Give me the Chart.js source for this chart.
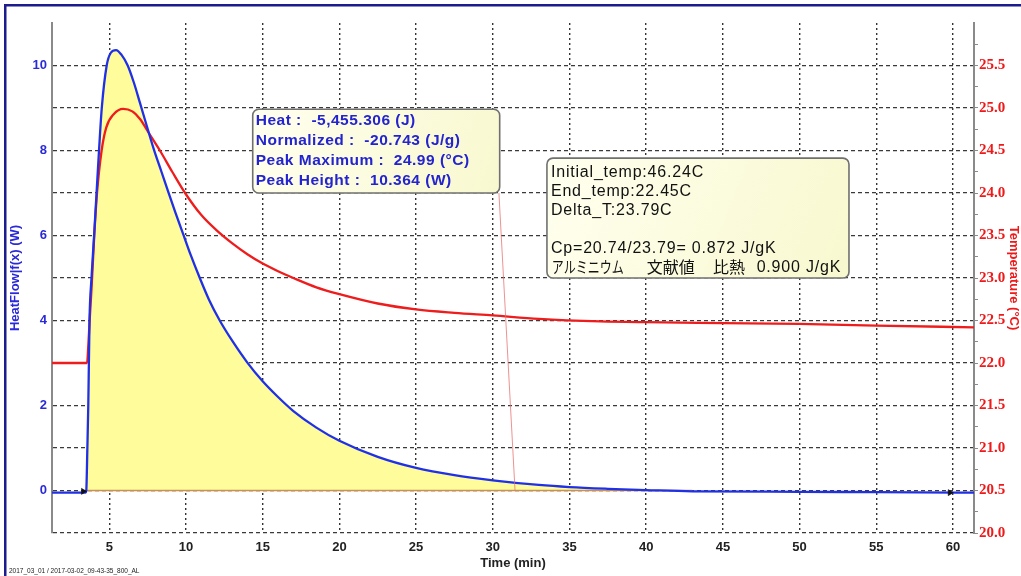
<!DOCTYPE html>
<html lang="ja">
<head>
<meta charset="UTF-8">
<title>HeatFlow / Temperature</title>
<script src="https://cdn.jsdelivr.net/npm/chart.js"></script>
<style>
  html, body { margin: 0; padding: 0; background: #fff; }
  #wrap { width: 1021px; height: 576px; }
</style>
</head>
<body>
<div id="wrap"><canvas id="dscChart" width="1021" height="576"></canvas></div>
<script>
// heat flow signal (W) against time (min)
const heatTime = [1.27, 2.5, 3.45, 3.5, 3.57, 3.63, 3.67, 3.71, 3.84, 4.01, 4.17, 4.33, 4.51, 4.83, 5.1, 5.44,
  5.8, 6.2, 6.6, 7.0, 7.45, 7.91, 8.4, 8.85, 9.3, 9.8, 10.3, 10.9, 11.5, 12.2, 13.0, 14.0, 15.0, 16.0, 17.0,
  18.5, 20.0, 22.5, 25.0, 27.5, 30.0, 33.0, 35.0, 37.5, 40.0, 43.0, 50.0, 55.0, 61.37];
const heatFlow = [-0.05, -0.05, -0.05, 0.0, 1.0, 2.0, 3.0, 4.0, 5.0, 6.0, 7.0, 8.0, 9.0, 10.0, 10.3, 10.364,
  10.25, 10.0, 9.6, 9.12, 8.57, 8.02, 7.5, 7.02, 6.55, 6.05, 5.55, 5.0, 4.49, 4.0, 3.53, 3.01, 2.57, 2.2,
  1.87, 1.48, 1.17, 0.79, 0.53, 0.36, 0.24, 0.13, 0.08, 0.04, 0.01, -0.02, -0.03, -0.04, -0.05];

// sample temperature (°C)
const tempTime = [1.27, 3.0, 3.55, 3.63, 3.72, 3.85, 4.02, 4.2, 4.5, 4.8, 5.3, 5.9, 6.5, 7.0, 7.6, 8.3, 9.1,
  9.94, 11.0, 12.0, 13.0, 14.0, 15.0, 16.0, 17.0, 18.5, 20.0, 22.5, 25.0, 27.5, 30.0, 33.0, 37.0, 40.0,
  45.0, 50.0, 55.0, 61.37];
const tempValue = [22.0, 22.0, 22.0, 22.2, 22.5, 22.9, 23.5, 24.0, 24.5, 24.77, 24.93, 24.99, 24.96, 24.87,
  24.7, 24.5, 24.25, 24.0, 23.74, 23.56, 23.41, 23.28, 23.17, 23.08, 23.0, 22.89, 22.81, 22.7, 22.63, 22.59,
  22.56, 22.52, 22.49, 22.48, 22.47, 22.46, 22.44, 22.42];

// integration window of the peak and its baseline
const peakStart = 3.5;
const peakFillEnd = 40.0;
const baselineEnd = 43.0;
const limitMarks = [{ x: 3.3, y: -0.02 }, { x: 59.8, y: -0.05 }];
const leader = [{ x: 30.4, y: 7.0 }, { x: 31.45, y: 0 }];

// axis ranges and tick labels
const timeRange = [1.265, 61.37];
const heatRange = [-1, 11];
const tempRange = [20, 26];
const timeTicks = [5, 10, 15, 20, 25, 30, 35, 40, 45, 50, 55, 60];
const heatTicks = [0, 2, 4, 6, 8, 10];
const tempTicks = [20.0, 20.5, 21.0, 21.5, 22.0, 22.5, 23.0, 23.5, 24.0, 24.5, 25.0, 25.5];

// result notes
const peakNote = {
  t0: 14.35, t1: 30.45, v0: 8.97, v1: 7.0,
  lines: ['Heat :  -5,455.306 (J)', 'Normalized :  -20.743 (J/g)',
          'Peak Maximum :  24.99 (°C)', 'Peak Height :  10.364 (W)']
};
const cpNote = {
  t0: 33.53, t1: 53.22, v0: 7.82, v1: 5.0,
  lines: ['Initial_temp:46.24C', 'End_temp:22.45C', 'Delta_T:23.79C', '', 'Cp=20.74/23.79= 0.872 J/gK'],
  jp: [['アルミニウム', 4.7, 72], ['文献値', 99.7, 0], ['比熱', 166, 0], ['0.900 J/gK', 209.7, 0]]
};
const footer = '2017_03_01 / 2017-03-02_09-43-35_800_AL';

const BLUE = '#2030e6';
const RED = '#ee1c1c';
const SANS = "'Liberation Sans', Arial, sans-serif";

const heatPts = heatTime.map((t, i) => ({ x: t, y: heatFlow[i] }));
const tempPts = tempTime.map((t, i) => ({ x: t, y: tempValue[i] }));
const fillPts = heatPts.filter(p => p.x >= peakStart && p.x <= peakFillEnd);

function roundRect(ctx, x, y, w, h, r) {
  ctx.beginPath();
  ctx.moveTo(x + r, y);
  ctx.arcTo(x + w, y, x + w, y + h, r);
  ctx.arcTo(x + w, y + h, x, y + h, r);
  ctx.arcTo(x, y + h, x, y, r);
  ctx.arcTo(x, y, x + w, y, r);
  ctx.closePath();
}

function noteBox(ctx, chart, note) {
  const sx = chart.scales.x, sy = chart.scales.y;
  const x1 = sx.getPixelForValue(note.t0), x2 = sx.getPixelForValue(note.t1);
  const y1 = sy.getPixelForValue(note.v0), y2 = sy.getPixelForValue(note.v1);
  const g = ctx.createLinearGradient(x1, y1, x2, y2);
  g.addColorStop(0, '#ffffef');
  g.addColorStop(1, '#f8f8cf');
  roundRect(ctx, x1, y1, x2 - x1, y2 - y1, 6);
  ctx.fillStyle = g;
  ctx.fill();
  ctx.lineWidth = 1.6;
  ctx.strokeStyle = '#707070';
  ctx.stroke();
  return { x: x1, y: y1 };
}

const decor = {
  id: 'decor',
  afterDatasetsDraw(chart) {
    const ctx = chart.ctx;
    ctx.save();
    ctx.textBaseline = 'middle';
    ctx.textAlign = 'left';

    let o = noteBox(ctx, chart, peakNote);
    ctx.fillStyle = '#2323d0';
    ctx.font = 'bold 15.5px ' + SANS;
    ctx.letterSpacing = '0.5px';
    peakNote.lines.forEach((s, i) => ctx.fillText(s, o.x + 3, o.y + 11 + i * 20.3));

    o = noteBox(ctx, chart, cpNote);
    ctx.fillStyle = '#111';
    ctx.font = '16px ' + SANS;
    ctx.letterSpacing = '0.8px';
    cpNote.lines.forEach((s, i) => ctx.fillText(s, o.x + 4, o.y + 14 + i * 19));
    const jy = o.y + 14 + 5 * 19;
    cpNote.jp.forEach(([s, dx, w]) => {
      if (/^[0-9]/.test(s)) {
        ctx.font = '16px ' + SANS;
        ctx.letterSpacing = '0.8px';
      } else {
        ctx.font = "16px 'Noto Sans CJK JP', sans-serif";
        ctx.letterSpacing = '0px';
      }
      if (w) ctx.fillText(s, o.x + dx, jy, w);
      else ctx.fillText(s, o.x + dx, jy);
    });
    ctx.restore();
  },
  afterDraw(chart) {
    const ctx = chart.ctx;
    ctx.save();
    // window frame
    ctx.fillStyle = '#1c1c8c';
    ctx.fillRect(4, 4, chart.width - 4, 2.5);
    ctx.fillRect(4, 4, 2.5, chart.height - 4);
    ctx.fillStyle = '#222';
    ctx.font = '6.5px ' + SANS;
    ctx.textBaseline = 'middle';
    ctx.fillText(footer, 9, 571);
    ctx.restore();
  }
};

new Chart(document.getElementById('dscChart'), {
  type: 'line',
  data: {
    datasets: [
      {
        label: 'limits', data: limitMarks, showLine: false, yAxisID: 'y',
        pointStyle: 'triangle', rotation: 90, pointRadius: 3.5,
        pointBackgroundColor: '#111', pointBorderColor: '#111', pointBorderWidth: 0.5
      },
      {
        label: 'leader', data: leader, yAxisID: 'y', borderColor: 'rgba(230,110,110,0.75)',
        borderWidth: 1, pointRadius: 0
      },
      {
        label: 'HeatFlow', data: heatPts, yAxisID: 'y', borderColor: BLUE, borderWidth: 2.3,
        pointRadius: 0, cubicInterpolationMode: 'monotone'
      },
      {
        label: 'Temperature', data: tempPts, yAxisID: 'y2', borderColor: RED, borderWidth: 2.3,
        pointRadius: 0, cubicInterpolationMode: 'monotone'
      },
      {
        label: 'baseline', data: [{ x: peakStart, y: 0 }, { x: baselineEnd, y: 0 }], yAxisID: 'y',
        borderColor: '#cc9050', borderWidth: 1.6, pointRadius: 0
      },
      {
        label: 'area', data: fillPts, yAxisID: 'y', borderWidth: 0, pointRadius: 0,
        cubicInterpolationMode: 'monotone', fill: 'origin', backgroundColor: 'rgb(255,252,155)'
      }
    ]
  },
  options: {
    responsive: false,
    animation: false,
    events: [],
    layout: { padding: { top: 23, left: 0, right: 0, bottom: 0 } },
    plugins: { legend: { display: false }, tooltip: { enabled: false } },
    scales: {
      x: {
        type: 'linear', min: timeRange[0], max: timeRange[1],
        afterFit: s => { s.height = 43; },
        afterBuildTicks: s => { s.ticks = timeTicks.map(v => ({ value: v })); },
        ticks: {
          autoSkip: false, maxRotation: 0, padding: 7, color: '#222',
          font: { family: SANS, size: 13, weight: 'bold' },
          callback: v => String(v)
        },
        grid: { color: '#333', lineWidth: 1.4, drawTicks: false },
        border: { display: false, dash: [2, 3] },
        title: {
          display: true, text: 'Time (min)', color: '#222',
          font: { family: SANS, size: 13, weight: 'bold' }, padding: { top: 0, bottom: 5 }
        }
      },
      y: {
        type: 'linear', position: 'left', min: heatRange[0], max: heatRange[1],
        afterFit: s => { s.width = 52; },
        afterBuildTicks: s => {
          const t = [];
          for (let v = heatRange[0]; v < heatRange[1]; v++) t.push({ value: v });
          s.ticks = t;
        },
        ticks: {
          autoSkip: false, padding: 5, color: '#2a2ad8',
          font: { family: SANS, size: 13, weight: 'bold' },
          callback: v => heatTicks.includes(v) ? String(v) : ''
        },
        grid: { color: '#3a3a3a', lineWidth: 1.3, drawTicks: false },
        border: { display: true, color: '#8a8a8a', width: 2, dash: [4, 3] },
        title: {
          display: true, text: 'HeatFlow|f(x) (W)', color: '#2a2ad8',
          font: { family: SANS, size: 13, weight: 'bold' }, padding: { top: 8, bottom: 0 }
        }
      },
      y2: {
        type: 'linear', position: 'right', min: tempRange[0], max: tempRange[1],
        afterFit: s => { s.width = 47; },
        afterBuildTicks: s => {
          const t = [];
          for (let v = tempRange[0]; v < tempRange[1]; v += 0.25) t.push({ value: v });
          s.ticks = t;
        },
        ticks: {
          autoSkip: false, padding: 1, color: '#f01818',
          font: { family: "'Liberation Serif', 'Times New Roman', serif", size: 15, weight: 'bold' },
          callback: v => tempTicks.includes(v) ? v.toFixed(1) : ''
        },
        grid: { drawOnChartArea: false, drawTicks: true, tickLength: 4, color: '#8a8a8a', lineWidth: 1 },
        border: { display: true, color: '#8a8a8a', width: 2 },
        title: {
          display: true, text: 'Temperature (°C)', color: '#f01818',
          font: { family: SANS, size: 13, weight: 'bold' }, padding: { top: 0, bottom: 0 }
        }
      }
    }
  },
  plugins: [decor]
});
</script>
</body>
</html>
